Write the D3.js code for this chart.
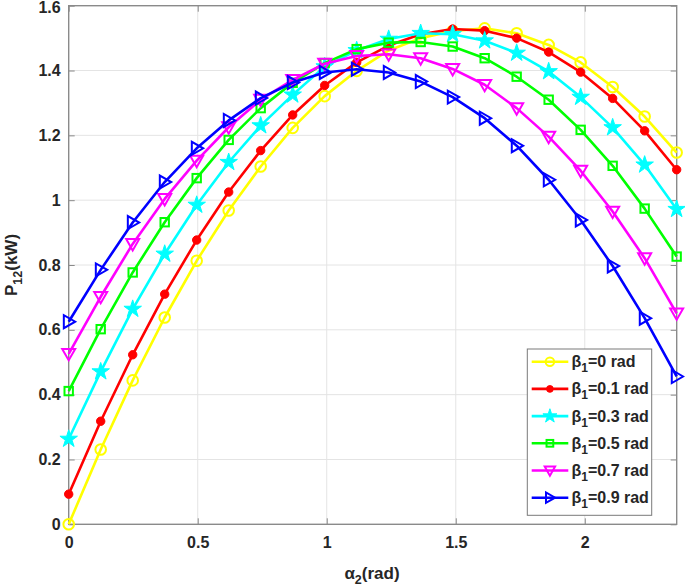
<!DOCTYPE html>
<html><head><meta charset="utf-8">
<script src="https://cdn.jsdelivr.net/npm/d3@7/dist/d3.min.js"></script>
<style>
body{margin:0;background:#fff;}
svg{display:block;font-family:"Liberation Sans",Arial,sans-serif;}
</style></head>
<body><svg id="c" width="685" height="588"></svg>
<script>
const alpha = [0,0.124,0.248,0.372,0.496,0.620,0.744,0.868,0.992,1.116,1.240,1.364,1.488,1.612,1.736,1.860,1.984,2.108,2.232,2.356];
const beta0  = [0,0.231,0.444,0.638,0.813,0.968,1.104,1.223,1.321,1.399,1.462,1.500,1.522,1.530,1.515,1.479,1.425,1.349,1.258,1.147];
const beta01 = [0.093,0.318,0.523,0.710,0.877,1.025,1.153,1.263,1.354,1.425,1.477,1.512,1.528,1.523,1.500,1.457,1.395,1.314,1.214,1.094];
const beta03 = [0.263,0.471,0.664,0.834,0.985,1.117,1.230,1.325,1.412,1.462,1.497,1.515,1.512,1.492,1.454,1.397,1.318,1.224,1.109,0.972];
const beta05 = [0.411,0.602,0.777,0.932,1.068,1.186,1.284,1.362,1.423,1.466,1.486,1.488,1.474,1.438,1.381,1.310,1.217,1.106,0.974,0.826];
const beta07 = [0.526,0.702,0.865,1.004,1.122,1.225,1.310,1.371,1.421,1.445,1.450,1.438,1.405,1.356,1.284,1.196,1.091,0.965,0.821,0.651];
const beta09 = [0.625,0.785,0.931,1.056,1.160,1.246,1.315,1.363,1.394,1.404,1.394,1.366,1.318,1.253,1.168,1.063,0.939,0.797,0.636,0.456];
const seriesNames = ["0","0.1","0.3","0.5","0.7","0.9"];
const seriesValues = [beta0,beta01,beta03,beta05,beta07,beta09];
const colors = ["#ffff00","#ff0000","#00ffff","#00ff00","#ff00ff","#0000ff"];
const markers = ["circle","dot","star","square","tridown","triright"];
const xTicks = [0,0.5,1,1.5,2];
const yTicks = [0,0.2,0.4,0.6,0.8,1,1.2,1.4,1.6];

const svg = d3.select("#c");
const L=68.7,R=676.7,T=5.7,B=524.3;
const x = d3.scaleLinear().domain([0,3*Math.PI/4]).range([L,R]);
const y = d3.scaleLinear().domain([0,1.6]).range([B,T]);

// grid
svg.append("g").selectAll("line").data(xTicks.filter(d=>d>0)).join("line")
  .attr("x1",d=>x(d)).attr("x2",d=>x(d)).attr("y1",T).attr("y2",B)
  .attr("stroke","#e4e4e4").attr("stroke-width",1);
svg.append("g").selectAll("line").data(yTicks.filter(d=>d>0&&d<1.6)).join("line")
  .attr("y1",d=>y(d)).attr("y2",d=>y(d)).attr("x1",L).attr("x2",R)
  .attr("stroke","#e4e4e4").attr("stroke-width",1);

// axes
const axColor="#8a8a8a";
const fmt = d=>String(d);
const gx = svg.append("g").attr("transform",`translate(0,${B})`)
  .call(d3.axisBottom(x).tickValues(xTicks).tickFormat(fmt).tickSizeInner(-6).tickSizeOuter(0).tickPadding(12));
const gxt = svg.append("g").attr("transform",`translate(0,${T})`)
  .call(d3.axisTop(x).tickValues(xTicks).tickFormat("").tickSizeInner(-6).tickSizeOuter(0));
const gy = svg.append("g").attr("transform",`translate(${L},0)`)
  .call(d3.axisLeft(y).tickValues(yTicks).tickFormat(fmt).tickSizeInner(-6).tickSizeOuter(0).tickPadding(8));
const gyr = svg.append("g").attr("transform",`translate(${R},0)`)
  .call(d3.axisRight(y).tickValues(yTicks).tickFormat("").tickSizeInner(-6).tickSizeOuter(0));
[gx,gxt,gy,gyr].forEach(g=>{
  g.select(".domain").remove();
  g.selectAll(".tick line").attr("stroke",axColor).attr("stroke-width",1);
  g.selectAll(".tick text").attr("fill","#262626").attr("font-size",16).attr("font-weight","bold")
   .attr("font-family","'Liberation Sans',Arial,sans-serif");
});
gy.selectAll(".tick text").filter(d=>d===1.6).attr("dy","0.42em");
svg.append("rect").attr("x",L).attr("y",T).attr("width",R-L).attr("height",B-T)
  .attr("fill","none").attr("stroke",axColor).attr("stroke-width",1.4);

// marker drawing
function drawMarker(g, type, color, cx, cy, scale){
  const s = scale||1;
  if(type==="circle"){
    g.append("circle").attr("cx",cx).attr("cy",cy).attr("r",5.3*s).attr("fill","none").attr("stroke",color).attr("stroke-width",2);
  } else if(type==="dot"){
    g.append("circle").attr("cx",cx).attr("cy",cy).attr("r",4.2*s).attr("fill",color).attr("stroke",color).attr("stroke-width",1);
  } else if(type==="star"){
    g.append("path").attr("d",d3.symbol(d3.symbolStar,95*s*s)()).attr("transform",`translate(${cx},${cy})`)
     .attr("fill",color).attr("stroke",color).attr("stroke-width",1);
  } else if(type==="square"){
    const h=4.2*s;
    g.append("rect").attr("x",cx-h).attr("y",cy-h).attr("width",2*h).attr("height",2*h)
     .attr("fill","none").attr("stroke",color).attr("stroke-width",2);
  } else if(type==="tridown"){
    const h=6.5*s;
    g.append("path").attr("d",`M${cx-h},${cy-h*0.75}L${cx+h},${cy-h*0.75}L${cx},${cy+h}Z`)
     .attr("fill","none").attr("stroke",color).attr("stroke-width",2).attr("stroke-linejoin","miter");
  } else if(type==="triright"){
    const h=6.5*s;
    g.append("path").attr("d",`M${cx-h*0.75},${cy-h}L${cx-h*0.75},${cy+h}L${cx+h},${cy}Z`)
     .attr("fill","none").attr("stroke",color).attr("stroke-width",2).attr("stroke-linejoin","miter");
  }
}

// series
const line = d3.line().x((d,i)=>x(alpha[i])).y(d=>y(d));
seriesValues.forEach((vals,k)=>{
  const g = svg.append("g");
  g.append("path").datum(vals).attr("d",line).attr("fill","none")
   .attr("stroke",colors[k]).attr("stroke-width",2.6).attr("stroke-linejoin","round");
  vals.forEach((v,i)=>drawMarker(g,markers[k],colors[k],x(alpha[i]),y(v),1));
});

// legend
const lg = svg.append("g");
lg.append("rect").attr("x",527.3).attr("y",349).attr("width",124.4).attr("height",166.3)
  .attr("fill","#fff").attr("stroke","#7a7a7a").attr("stroke-width",1);
seriesNames.forEach((n,k)=>{
  const cy = 361.7 + k*27.2;
  lg.append("line").attr("x1",531.7).attr("x2",568.3).attr("y1",cy).attr("y2",cy)
    .attr("stroke",colors[k]).attr("stroke-width",2.6);
  drawMarker(lg,markers[k],colors[k],549.9,cy,0.8);
  const t = lg.append("text").attr("x",571.5).attr("y",cy+5.5).attr("font-size",16).attr("font-weight","bold").attr("fill","#262626");
  t.append("tspan").text("β");
  t.append("tspan").attr("dy",5).attr("font-size",12).text("1");
  t.append("tspan").attr("dy",-5).text("="+n+" rad");
});

// axis labels
const xl = svg.append("text").attr("x",372).attr("y",579).attr("text-anchor","middle")
  .attr("font-size",17).attr("font-weight","bold").attr("fill","#262626");
xl.append("tspan").text("α");
xl.append("tspan").attr("dy",5).attr("font-size",12.5).text("2");
xl.append("tspan").attr("dy",-5).text("(rad)");
const yl = svg.append("text").attr("transform","translate(17,265) rotate(-90)").attr("text-anchor","middle")
  .attr("font-size",17).attr("font-weight","bold").attr("fill","#262626");
yl.append("tspan").text("P");
yl.append("tspan").attr("dy",5).attr("font-size",12.5).text("12");
yl.append("tspan").attr("dy",-5).text("(kW)");
</script></body></html>
